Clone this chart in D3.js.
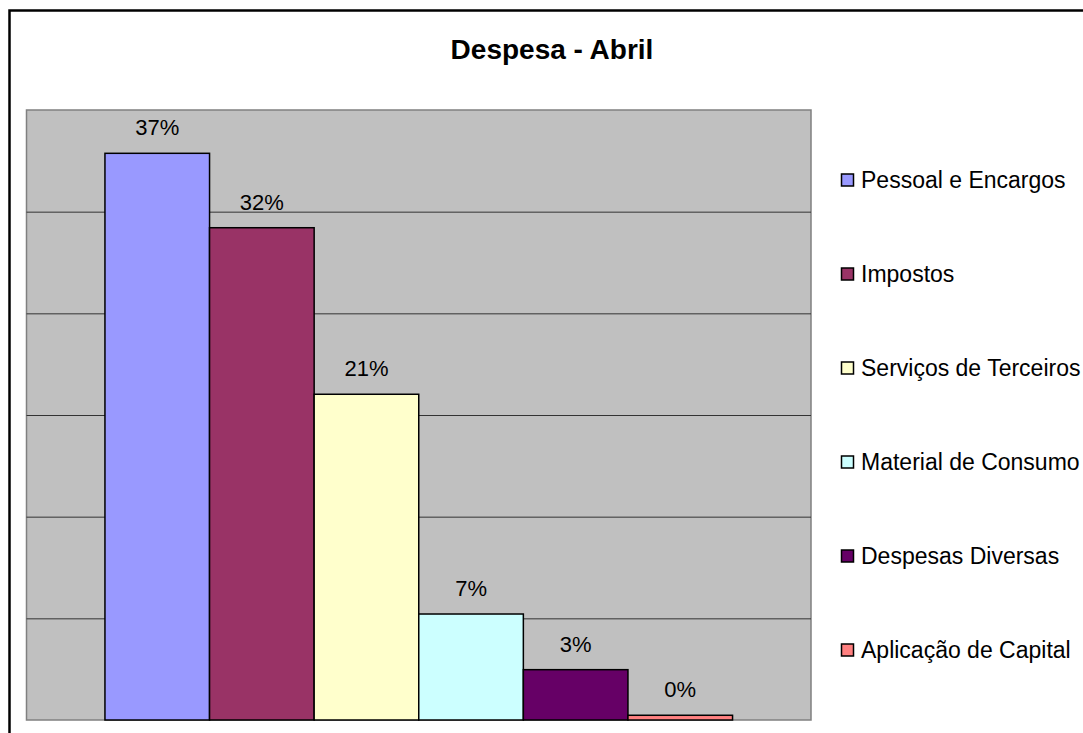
<html>
<head>
    <meta charset="utf-8">
    <script src="https://cdn.jsdelivr.net/npm/d3@7"></script>
    <style>
        body { margin: 0; background: #fff; }
        text { font-family: "Liberation Sans", Arial, sans-serif; fill: #000; }
    </style>
</head>
<body>
<svg width="1083" height="733"></svg>
<script>
// categories and values (share of expenses, April)
var categories = ["Pessoal e Encargos", "Impostos", "Serviços de Terceiros",
    "Material de Consumo", "Despesas Diversas", "Aplicação de Capital"];
var values = [0.3716, 0.3228, 0.2136, 0.0695, 0.033, 0.0031];
var colors = ["#9999FF", "#993366", "#FFFFCC", "#CCFFFF", "#660066", "#FF8080"];
var title = "Despesa - Abril";

var yMax = 0.4, gridCount = 6;

var svg = d3.select("svg");

// outer chart frame (runs off the picture on the right and bottom)
svg.append("rect")
    .attr("x", 9.5).attr("y", 10.5)
    .attr("width", 1200).attr("height", 900)
    .attr("fill", "#fff")
    .attr("stroke", "#000")
    .attr("stroke-width", 2.5);

var plot = { left: 26.5, right: 811, top: 110, bottom: 720 };

var x = d3.scaleBand()
    .domain(categories)
    .range([plot.left, plot.right])
    .paddingInner(0)
    .paddingOuter(0.75);

var y = d3.scaleLinear()
    .domain([0, yMax])
    .range([plot.bottom, plot.top]);

// plot background
svg.append("rect")
    .attr("x", plot.left).attr("y", plot.top)
    .attr("width", plot.right - plot.left)
    .attr("height", plot.bottom - plot.top)
    .attr("fill", "#C0C0C0")
    .attr("stroke", "#808080")
    .attr("stroke-width", 1.5);

// horizontal gridlines
var gridValues = d3.range(1, gridCount).map(function(i) { return i * yMax / gridCount; });
svg.append("g")
    .attr("transform", "translate(" + plot.left + ",0)")
    .call(d3.axisLeft(y)
        .tickValues(gridValues)
        .tickSize(-(plot.right - plot.left))
        .tickFormat(""))
    .call(function(g) { g.select(".domain").remove(); })
    .selectAll("line")
    .attr("stroke", "#333")
    .attr("stroke-width", 1);

// bars
svg.append("g").selectAll("rect")
    .data(values)
    .enter().append("rect")
    .attr("x", function(d, i) { return x(categories[i]); })
    .attr("y", function(d) { return y(d); })
    .attr("width", x.bandwidth())
    .attr("height", function(d) { return y(0) - y(d); })
    .attr("fill", function(d, i) { return colors[i]; })
    .attr("stroke", "#000")
    .attr("stroke-width", 1.5);

// value labels
var pct = d3.format(".0%");
svg.append("g").selectAll("text")
    .data(values)
    .enter().append("text")
    .attr("x", function(d, i) { return x(categories[i]) + x.bandwidth() / 2; })
    .attr("y", function(d) { return y(d) - 18; })
    .attr("text-anchor", "middle")
    .style("font-size", "22px")
    .text(function(d) { return pct(d); });

// title
svg.append("text")
    .attr("x", 552)
    .attr("y", 59)
    .attr("text-anchor", "middle")
    .style("font-size", "28px")
    .style("font-weight", "bold")
    .text(title);

// legend
var legend = svg.append("g").selectAll("g")
    .data(categories)
    .enter().append("g")
    .attr("transform", function(d, i) { return "translate(841," + (180 + i * 94) + ")"; });

legend.append("rect")
    .attr("x", 0.5).attr("y", -6)
    .attr("width", 12).attr("height", 12)
    .attr("fill", function(d, i) { return colors[i]; })
    .attr("stroke", "#000")
    .attr("stroke-width", 1.5);

legend.append("text")
    .attr("x", 20)
    .attr("y", 0)
    .attr("dy", "0.35em")
    .style("font-size", "23px")
    .text(function(d) { return d; });
</script>
</body>
</html>
